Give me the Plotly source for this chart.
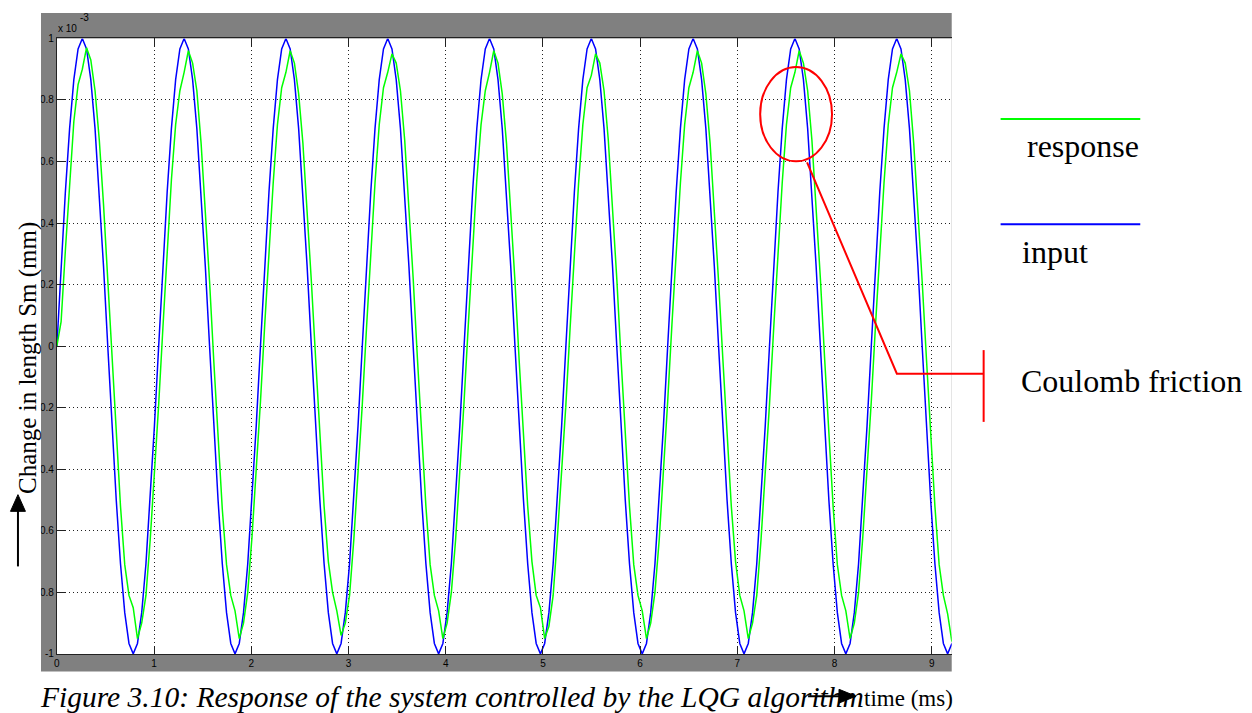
import plotly.graph_objects as go

W, H = 1252, 713

# Sampling of the recorded signals (ms); both start at t = 0
T_START_MS = 0.0
SAMPLE_STEP_MS = 0.0436332

# Reference input Sm (x 10^-3 mm)
input_signal = [
    0, 0.259, 0.5, 0.707, 0.866, 0.966, 1, 0.966, 0.866, 0.707, 0.5, 0.259, 0, -0.259, -0.5, -0.707, -0.866, -0.966, -1, -0.966, -0.866, -0.707, -0.5, -0.259,
    0, 0.259, 0.5, 0.707, 0.866, 0.966, 1, 0.966, 0.866, 0.707, 0.5, 0.259, 0, -0.259, -0.5, -0.707, -0.866, -0.966, -1, -0.966, -0.866, -0.707, -0.5, -0.259,
    0, 0.259, 0.5, 0.707, 0.866, 0.966, 1, 0.966, 0.866, 0.707, 0.5, 0.259, 0, -0.259, -0.5, -0.707, -0.866, -0.966, -1, -0.966, -0.866, -0.707, -0.5, -0.259,
    0, 0.259, 0.5, 0.707, 0.866, 0.966, 1, 0.966, 0.866, 0.707, 0.5, 0.259, 0, -0.259, -0.5, -0.707, -0.866, -0.966, -1, -0.966, -0.866, -0.707, -0.5, -0.259,
    0, 0.259, 0.5, 0.707, 0.866, 0.966, 1, 0.966, 0.866, 0.707, 0.5, 0.259, 0, -0.259, -0.5, -0.707, -0.866, -0.966, -1, -0.966, -0.866, -0.707, -0.5, -0.259,
    0, 0.259, 0.5, 0.707, 0.866, 0.966, 1, 0.966, 0.866, 0.707, 0.5, 0.259, 0, -0.259, -0.5, -0.707, -0.866, -0.966, -1, -0.966, -0.866, -0.707, -0.5, -0.259,
    0, 0.259, 0.5, 0.707, 0.866, 0.966, 1, 0.966, 0.866, 0.707, 0.5, 0.259, 0, -0.259, -0.5, -0.707, -0.866, -0.966, -1, -0.966, -0.866, -0.707, -0.5, -0.259,
    0, 0.259, 0.5, 0.707, 0.866, 0.966, 1, 0.966, 0.866, 0.707, 0.5, 0.259, 0, -0.259, -0.5, -0.707, -0.866, -0.966, -1, -0.966, -0.866, -0.707, -0.5, -0.259,
    0, 0.259, 0.5, 0.707, 0.866, 0.966, 1, 0.966, 0.866, 0.707, 0.5, 0.259, 0, -0.259, -0.5, -0.707, -0.866, -0.966, -1, -0.966,
]

# Measured response of the LQG-controlled system (x 10^-3 mm)
response_signal = [
    0.00, 0.08, 0.31, 0.54, 0.73, 0.85, 0.90, 0.97, 0.93, 0.83, 0.67, 0.46, 0.22, -0.04, -0.29, -0.52, -0.71, -0.81, -0.85, -0.95, -0.90, -0.81, -0.63, -0.42,
    -0.19, 0.06, 0.31, 0.54, 0.72, 0.83, 0.89, 0.96, 0.92, 0.83, 0.66, 0.45, 0.21, -0.05, -0.30, -0.53, -0.71, -0.81, -0.86, -0.95, -0.90, -0.80, -0.62, -0.41,
    -0.18, 0.07, 0.31, 0.53, 0.72, 0.84, 0.89, 0.96, 0.92, 0.82, 0.66, 0.45, 0.21, -0.04, -0.29, -0.52, -0.70, -0.80, -0.86, -0.94, -0.90, -0.81, -0.63, -0.42,
    -0.19, 0.06, 0.30, 0.53, 0.72, 0.84, 0.89, 0.95, 0.92, 0.83, 0.67, 0.46, 0.22, -0.04, -0.29, -0.52, -0.71, -0.81, -0.86, -0.95, -0.90, -0.80, -0.63, -0.42,
    -0.18, 0.07, 0.31, 0.54, 0.72, 0.83, 0.89, 0.96, 0.92, 0.82, 0.66, 0.45, 0.21, -0.05, -0.30, -0.52, -0.70, -0.81, -0.85, -0.95, -0.91, -0.81, -0.62, -0.41,
    -0.19, 0.06, 0.30, 0.53, 0.72, 0.84, 0.88, 0.95, 0.92, 0.83, 0.67, 0.46, 0.22, -0.04, -0.29, -0.52, -0.71, -0.81, -0.86, -0.95, -0.90, -0.80, -0.63, -0.42,
    -0.18, 0.07, 0.31, 0.53, 0.72, 0.84, 0.89, 0.96, 0.92, 0.82, 0.66, 0.45, 0.21, -0.04, -0.29, -0.52, -0.70, -0.81, -0.86, -0.95, -0.90, -0.81, -0.63, -0.42,
    -0.19, 0.06, 0.30, 0.53, 0.72, 0.84, 0.89, 0.96, 0.92, 0.83, 0.67, 0.46, 0.22, -0.04, -0.29, -0.52, -0.71, -0.81, -0.86, -0.95, -0.90, -0.80, -0.62, -0.41,
    -0.18, 0.07, 0.31, 0.53, 0.72, 0.84, 0.89, 0.95, 0.92, 0.83, 0.66, 0.45, 0.21, -0.04, -0.29, -0.52, -0.71, -0.81, -0.87, -0.96,
]

x_tick_values = [0, 1, 2, 3, 4, 5, 6, 7, 8, 9]
y_tick_values = [-1, -0.8, -0.6, -0.4, -0.2, 0, 0.2, 0.4, 0.6, 0.8, 1]
y_tick_labels = ["-1", "-0.8", "-0.6", "-0.4", "-0.2", "0", "0.2", "0.4", "0.6", "0.8", "1"]

SERIF = "Liberation Serif, Times New Roman, serif"
SANS = "Liberation Sans, Arial, sans-serif"


def px(x):
    return x / W


def py(y):
    return 1 - y / H


fig = go.Figure()

fig.add_trace(go.Scatter(
    x0=T_START_MS, dx=SAMPLE_STEP_MS, y=input_signal, mode="lines",
    line=dict(color="#0000ff", width=1.5), name="input", showlegend=False,
))
fig.add_trace(go.Scatter(
    x0=T_START_MS, dx=SAMPLE_STEP_MS, y=response_signal, mode="lines",
    line=dict(color="#00ff00", width=1.5), name="response", showlegend=False,
))

axis_common = dict(
    ticks="inside", ticklen=8, tickwidth=1, tickcolor="#222222",
    showline=True, linecolor="#222222", linewidth=1,
    showgrid=True, gridcolor="#222222", gridwidth=1, griddash="1px,3px",
    zeroline=False, tickfont=dict(family=SANS, size=10, color="#000000"),
)

fig.update_layout(
    width=W, height=H,
    margin=dict(l=0, r=0, t=0, b=0),
    paper_bgcolor="#ffffff", plot_bgcolor="#ffffff",
    xaxis=dict(domain=[px(54), px(951)], range=[0, 9.205], tickvals=x_tick_values,
               mirror="ticks", **axis_common),
    yaxis=dict(domain=[py(659), py(33)], range=[-1, 1], tickvals=y_tick_values,
               ticktext=y_tick_labels, **axis_common),
)

shapes = []
# grey figure window behind the axes
shapes.append(dict(type="rect", xref="paper", yref="paper", x0=px(38), x1=px(951),
                   y0=py(677), y1=py(7), fillcolor="#808080", line=dict(width=0), layer="below"))
shapes.append(dict(type="rect", xref="paper", yref="paper", x0=px(54), x1=px(951),
                   y0=py(659), y1=py(33), fillcolor="#ffffff", line=dict(width=0), layer="below"))
# page margin trims the left of the tick labels
shapes.append(dict(type="rect", xref="paper", yref="paper", x0=0, x1=px(38),
                   y0=py(677), y1=py(7), fillcolor="#ffffff", line=dict(width=0), layer="above"))

# Coulomb friction call-out
shapes.append(dict(type="circle", xref="paper", yref="paper", x0=px(759), x1=px(831),
                   y0=py(158), y1=py(62), line=dict(color="#ff0000", width=2)))
shapes.append(dict(type="path", xref="paper", yref="paper",
                   path=f"M {px(806)},{py(159)} L {px(896)},{py(374)} L {px(983)},{py(374)}",
                   line=dict(color="#ff0000", width=2)))
shapes.append(dict(type="line", xref="paper", yref="paper", x0=px(983), x1=px(983),
                   y0=py(423), y1=py(350), line=dict(color="#ff0000", width=2)))

# legend keys
shapes.append(dict(type="line", xref="paper", yref="paper", x0=px(1000), x1=px(1140),
                   y0=py(115), y1=py(115), line=dict(color="#00ff00", width=2)))
shapes.append(dict(type="line", xref="paper", yref="paper", x0=px(1000), x1=px(1140),
                   y0=py(222), y1=py(222), line=dict(color="#0000ff", width=2)))

# axis direction arrows
shapes.append(dict(type="line", xref="paper", yref="paper", x0=px(15), x1=px(15),
                   y0=py(570), y1=py(512), line=dict(color="#000000", width=2)))
shapes.append(dict(type="path", xref="paper", yref="paper",
                   path=f"M {px(7.5)},{py(514)} L {px(22.5)},{py(514)} L {px(15)},{py(497)} Z",
                   fillcolor="#000000", line=dict(color="#000000", width=1)))
shapes.append(dict(type="line", xref="paper", yref="paper", x0=px(807), x1=px(840),
                   y0=py(702), y1=py(702), line=dict(color="#000000", width=2)))
shapes.append(dict(type="path", xref="paper", yref="paper",
                   path=f"M {px(838)},{py(695)} L {px(838)},{py(709)} L {px(855)},{py(702)} Z",
                   fillcolor="#000000", line=dict(color="#000000", width=1)))

annotations = [
    dict(text="x 10", x=px(53), y=py(23), xanchor="left", yanchor="middle",
         font=dict(family=SANS, size=10, color="#000000")),
    dict(text="-3", x=px(75), y=py(12), xanchor="left", yanchor="middle",
         font=dict(family=SANS, size=10, color="#000000")),
    dict(text="Change in length Sm (mm)", x=px(25), y=py(358), textangle=-90,
         xanchor="center", yanchor="middle", font=dict(family=SERIF, size=25, color="#000000")),
    dict(text="response", x=px(1083), y=py(142), xanchor="center", yanchor="middle",
         font=dict(family=SERIF, size=32, color="#000000")),
    dict(text="input", x=px(1055), y=py(250), xanchor="center", yanchor="middle",
         font=dict(family=SERIF, size=32, color="#000000")),
    dict(text="Coulomb friction", x=px(1018), y=py(381), xanchor="left", yanchor="middle",
         font=dict(family=SERIF, size=32, color="#000000")),
    dict(text="<i>Figure 3.10: Response of the system controlled by the LQG algorithm</i>",
         x=px(35), y=py(703), xanchor="left", yanchor="middle",
         font=dict(family=SERIF, size=29.5, color="#000000")),
    dict(text="time (ms)", x=px(861), y=py(704), xanchor="left", yanchor="middle",
         font=dict(family=SERIF, size=23, color="#000000")),
]
for a in annotations:
    a.update(xref="paper", yref="paper", showarrow=False)

fig.update_layout(shapes=shapes, annotations=annotations)

fig.write_html("out.html")
